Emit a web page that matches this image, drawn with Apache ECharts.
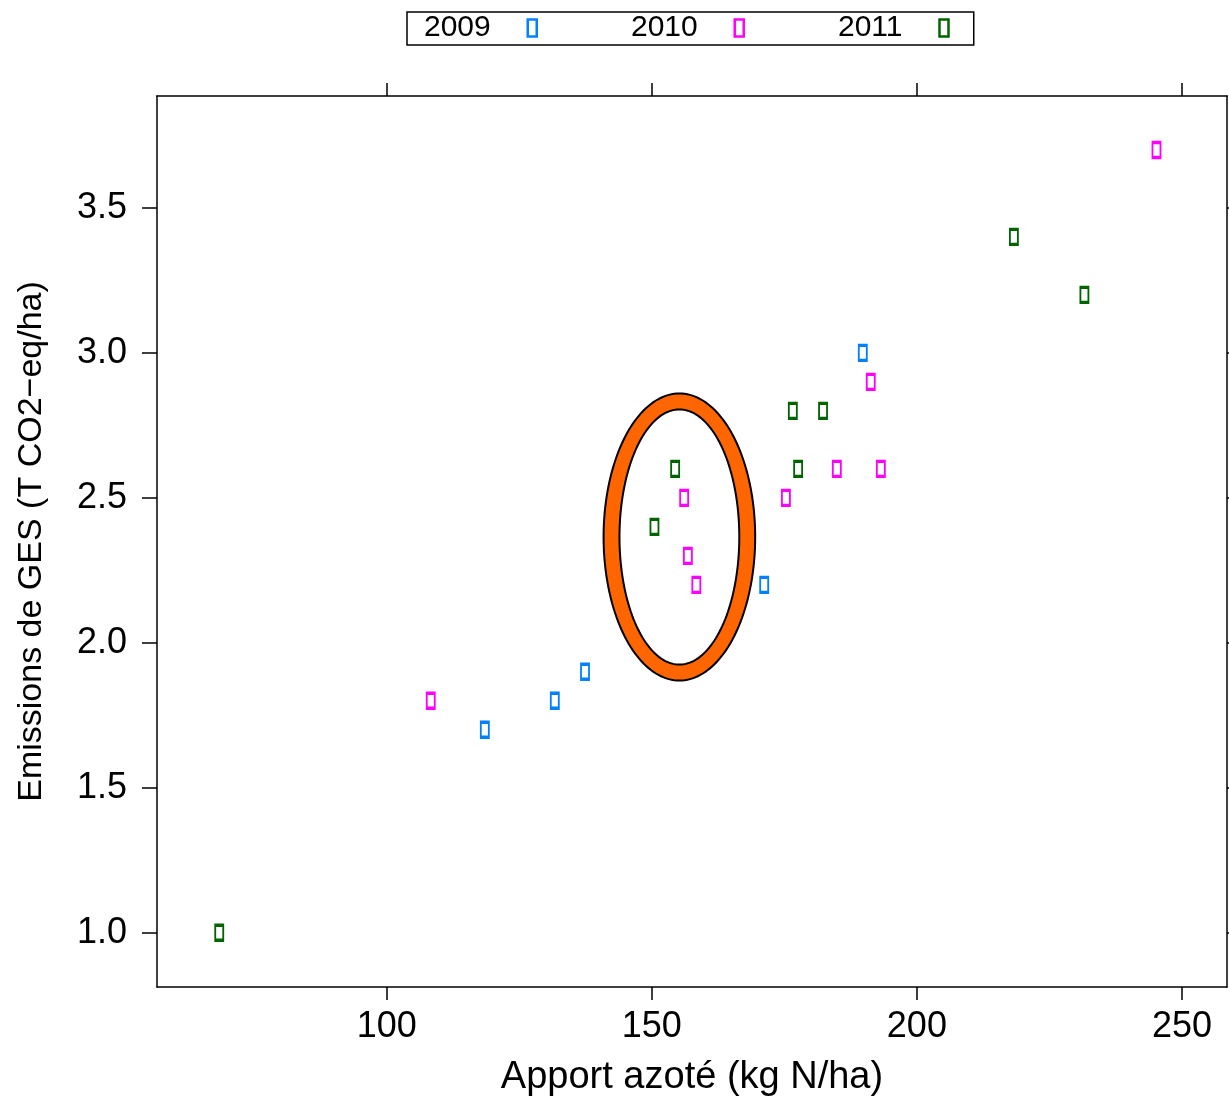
<!DOCTYPE html>
<html>
<head>
<meta charset="utf-8">
<title>Emissions de GES</title>
<script src="https://cdn.jsdelivr.net/npm/echarts@6/dist/echarts.min.js"></script>
<style>
  html, body { margin: 0; padding: 0; background: #fff; }
  #main { width: 1229px; height: 1096px; }
</style>
</head>
<body>
<div id="main"></div>
<script>
// données : [apport azoté, émissions]
var years = ['2009', '2010', '2011'];
var colors = ['#0080ff', '#ff00ff', '#006400'];
var pts2009 = [[118.5, 1.7], [131.7, 1.8], [137.4, 1.9], [171.2, 2.2], [189.8, 3.0]];
var pts2010 = [[108.3, 1.8], [156.1, 2.5], [156.8, 2.3], [158.4, 2.2], [175.3, 2.5],
               [184.9, 2.6], [191.3, 2.9], [193.2, 2.6], [245.2, 3.7]];
var pts2011 = [[68.4, 1.0], [150.5, 2.4], [154.4, 2.6], [176.6, 2.8], [177.6, 2.6],
               [182.3, 2.8], [218.3, 3.4], [231.6, 3.2]];
var xTicks = [100, 150, 200, 250];
var yTicks = [1.0, 1.5, 2.0, 2.5, 3.0, 3.5];
// ellipse (annotation) : centre et rayons en unités des axes
var ellipseCenter = [155.2, 2.365];
var ellipseOuter = [14.3, 0.495];
var ellipseInner = [11.3, 0.44];

var font = 'Liberation Sans, Arial, Helvetica, sans-serif';
var chart = echarts.init(document.getElementById('main'));

function ellipsePoints(c, r) {
  var pts = [];
  for (var i = 0; i < 180; i++) {
    var a = i / 180 * Math.PI * 2;
    pts.push([c[0] + r[0] * Math.cos(a), c[1] + r[1] * Math.sin(a)]);
  }
  return pts;
}

function scatterSeries(name, data, color) {
  return {
    name: name,
    type: 'scatter',
    data: data,
    symbol: 'rect',
    symbolSize: [8, 15],
    z: 5,
    itemStyle: { color: 'rgba(255,255,255,0)', borderColor: color, borderWidth: 2.5, opacity: 1 },
    emphasis: { disabled: true }
  };
}

var xBase = {
  type: 'value', min: 56.66, max: 258.5,
  splitLine: { show: false },
  axisLine: { lineStyle: { color: '#000', width: 1.5 } },
  axisTick: { customValues: xTicks, length: 13, lineStyle: { color: '#000', width: 1.5 } }
};
var yBase = {
  type: 'value', min: 0.813, max: 3.886,
  splitLine: { show: false },
  axisLine: { show: true, lineStyle: { color: '#000', width: 1.5 } },
  axisTick: { show: true, customValues: yTicks, length: 15, lineStyle: { color: '#000', width: 1.5 } }
};

var option = {
  backgroundColor: '#fff',
  animation: false,
  grid: { left: 157, top: 96, right: 2, bottom: 109, containLabel: false, outerBoundsMode: 'none' },
  legend: {
    data: years,
    left: 407, top: 12,
    orient: 'horizontal',
    align: 'right',
    itemWidth: 9, itemHeight: 17,
    itemGap: 93,
    padding: [1, 24, 2, 17],
    borderColor: '#000', borderWidth: 1.5,
    selectedMode: false,
    itemStyle: { borderWidth: 2.5 },
    textStyle: { fontFamily: font, fontSize: 30, color: '#000', padding: [0, 32, 0, 0] }
  },
  xAxis: [
    Object.assign({}, xBase, {
      position: 'bottom',
      name: 'Apport azoté (kg N/ha)',
      nameLocation: 'middle', nameGap: 72,
      nameTextStyle: { fontFamily: font, fontSize: 38, color: '#000' },
      axisLabel: { customValues: xTicks, fontFamily: font, fontSize: 36, color: '#000', margin: 22 }
    }),
    Object.assign({}, xBase, {
      position: 'top',
      axisLabel: { show: false }
    })
  ],
  yAxis: [
    Object.assign({}, yBase, {
      position: 'left',
      name: 'Emissions de GES (T CO2\u2212eq/ha)',
      nameLocation: 'middle', nameGap: 108,
      nameTextStyle: { fontFamily: font, fontSize: 34, color: '#000' },
      axisLabel: {
        customValues: yTicks, fontFamily: font, fontSize: 36, color: '#000', margin: 30,
        formatter: function (v) { return v.toFixed(1); }
      }
    }),
    Object.assign({}, yBase, {
      position: 'right',
      axisLabel: { show: false }
    })
  ],
  series: [
    {
      type: 'custom',
      name: 'ellipse',
      z: 2,
      silent: true,
      data: [ellipseCenter],
      renderItem: function (params, api) {
        var outer = ellipsePoints(ellipseCenter, ellipseOuter).map(function (p) { return api.coord(p); });
        var inner = ellipsePoints(ellipseCenter, ellipseInner).map(function (p) { return api.coord(p); });
        return {
          type: 'group',
          children: [
            { type: 'polygon', shape: { points: outer },
              style: { fill: '#ff6600', stroke: '#000', lineWidth: 2 } },
            { type: 'polygon', shape: { points: inner },
              style: { fill: '#fff', stroke: '#000', lineWidth: 2 } }
          ]
        };
      }
    },
    scatterSeries(years[0], pts2009, colors[0]),
    scatterSeries(years[1], pts2010, colors[1]),
    scatterSeries(years[2], pts2011, colors[2])
  ]
};

chart.setOption(option);
</script>
</body>
</html>
